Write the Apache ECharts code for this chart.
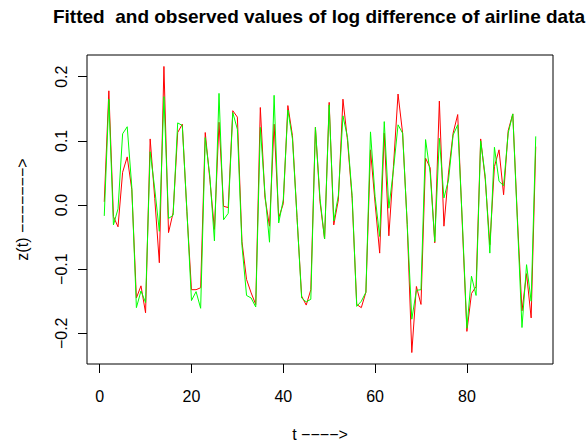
<!DOCTYPE html>
<html>
<head>
<meta charset="utf-8">
<script src="https://cdn.jsdelivr.net/npm/echarts@6/dist/echarts.min.js"></script>
<style>
html,body{margin:0;padding:0;background:#fff;}
#chart{width:588px;height:443px;}
</style>
</head>
<body>
<div id="chart"></div>
<script>
// Observed (red) and fitted (green) log differences, t = 1..95
const observed = [
 0.005, 0.178,-0.018,-0.034, 0.051, 0.075, 0.024,-0.145,-0.126,-0.168,
 0.103, 0.010,-0.090, 0.216,-0.043,-0.012, 0.113, 0.126,-0.010,-0.132,
-0.132,-0.129, 0.113, 0.040,-0.038, 0.129,-0.002,-0.004, 0.147, 0.137,
-0.057,-0.116,-0.137,-0.155, 0.152, 0.012,-0.033, 0.126,-0.020, 0.002,
 0.155, 0.108,-0.020,-0.142,-0.156,-0.132, 0.121, 0.005,-0.053, 0.160,
-0.031, 0.008, 0.165, 0.100, 0.010,-0.155,-0.160,-0.136, 0.086, 0.003,
-0.075, 0.112,-0.048, 0.060, 0.173, 0.112,-0.030,-0.230,-0.127,-0.155,
 0.073, 0.058,-0.059, 0.162,-0.033, 0.050, 0.112, 0.141,-0.030,-0.197,
-0.138,-0.127, 0.103, 0.040,-0.062, 0.060, 0.086, 0.016, 0.116, 0.142,
-0.020,-0.165,-0.107,-0.176, 0.091
];
const fitted = [
-0.017, 0.165,-0.031,-0.006, 0.111, 0.122, 0.028,-0.160,-0.134,-0.152,
 0.083, 0.025,-0.041, 0.169,-0.021,-0.016, 0.128, 0.124,-0.008,-0.149,
-0.135,-0.161, 0.105, 0.045,-0.056, 0.174,-0.023,-0.013, 0.144, 0.118,
-0.063,-0.141,-0.145,-0.159, 0.121, 0.019,-0.058, 0.171,-0.028, 0.008,
 0.148, 0.103,-0.020,-0.145,-0.151,-0.147, 0.121, 0.010,-0.053, 0.156,
-0.025, 0.015, 0.139, 0.105, 0.015,-0.158,-0.150,-0.136, 0.114, 0.013,
-0.049, 0.130,-0.005, 0.055, 0.125, 0.112,-0.030,-0.178,-0.133,-0.132,
 0.102, 0.050,-0.057, 0.104, 0.011, 0.039, 0.109, 0.125,-0.025,-0.192,
-0.111,-0.141, 0.100, 0.045,-0.075, 0.090, 0.037, 0.030, 0.112, 0.142,
-0.025,-0.191,-0.093,-0.150, 0.107
];
const t = observed.map((_, i) => i + 1);
const xTicks = [0, 20, 40, 60, 80];
const yTicks = [-0.2, -0.1, 0.0, 0.1, 0.2];
const titleText = 'Fitted  and observed values of log difference of airline data';
const xLabel = 't \u2212\u2212\u2212\u2212>';
const yLabel = 'z(t) \u2212\u2212\u2212\u2212\u2212\u2212\u2212>';

// R-style 4% axis extension
const tMin = Math.min(...t), tMax = Math.max(...t);
const all = observed.concat(fitted);
const vMin = Math.min(...all), vMax = Math.max(...all);
const xPad = 0.04 * (tMax - tMin), yPad = 0.04 * (vMax - vMin);

const FONT = 'Liberation Sans, Arial, Helvetica, sans-serif';
const TICK = 9;
const chart = echarts.init(document.getElementById('chart'), null, {renderer: 'svg'});
chart.setOption({
  animation: false,
  backgroundColor: '#fff',
  grid: {left: 87, right: 35, top: 55, bottom: 79, show: true, borderColor: '#000', borderWidth: 1,
         backgroundColor: 'transparent', outerBoundsMode: 'none', containLabel: false},
  graphic: [{
    type: 'text', x: 319, y: 16,
    style: {text: titleText, align: 'center', verticalAlign: 'middle', font: 'bold 19px ' + FONT, fill: '#000'}
  }],
  xAxis: {
    type: 'value', position: 'bottom', offset: TICK, min: tMin - xPad, max: tMax + xPad,
    axisLine: {show: true, onZero: false, lineStyle: {color: '#ffffff', width: 1}},
    splitLine: {show: false},
    axisTick: {show: true, inside: true, length: TICK, customValues: xTicks, lineStyle: {color: '#000', width: 1}},
    axisLabel: {show: true, customValues: xTicks, color: '#000', fontSize: 16, fontFamily: FONT, margin: 15},
    name: xLabel, nameLocation: 'middle', nameGap: 53,
    nameTextStyle: {color: '#000', fontSize: 16, fontFamily: FONT}
  },
  yAxis: {
    type: 'value', position: 'left', offset: TICK, min: vMin - yPad, max: vMax + yPad,
    axisLine: {show: true, onZero: false, lineStyle: {color: '#ffffff', width: 1}},
    splitLine: {show: false},
    axisTick: {show: true, inside: true, length: TICK, customValues: yTicks, lineStyle: {color: '#000', width: 1}},
    axisLabel: {show: true, customValues: yTicks, rotate: 90, color: '#000', fontSize: 16, fontFamily: FONT, margin: 9,
      formatter: v => v.toFixed(1).replace('-', '\u2212')},
    name: yLabel, nameLocation: 'middle', nameGap: 48, nameRotate: 90,
    nameTextStyle: {color: '#000', fontSize: 16, fontFamily: FONT}
  },
  series: [
    {type: 'line', name: 'observed', data: t.map((x, i) => [x, observed[i]]), showSymbol: false,
     lineStyle: {color: '#ff0000', width: 1}, itemStyle: {color: '#ff0000'}},
    {type: 'line', name: 'fitted', data: t.map((x, i) => [x, fitted[i]]), showSymbol: false,
     lineStyle: {color: '#00ff00', width: 1}, itemStyle: {color: '#00ff00'}}
  ]
});
</script>
</body>
</html>
